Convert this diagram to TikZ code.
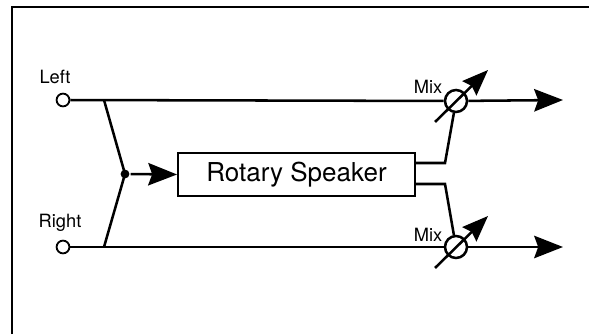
\documentclass[tikz,border=0pt]{standalone}
\usepackage{fontspec}
\setmainfont{TeX Gyre Heros}
\usetikzlibrary{arrows.meta,positioning,calc}

\begin{document}
\begin{tikzpicture}[
    x=0.025cm, y=0.025cm,
    line width=1.8pt,
    port/.style={draw, circle, fill=white, line width=1.3pt, inner sep=0pt, minimum size=0.32cm},
    mixer/.style={draw, circle, fill=white, inner sep=0pt, minimum size=0.55cm},
    box/.style={draw, fill=white, line width=1.5pt, minimum width=5.92cm, minimum height=1.08cm, font=\fontsize{18.5}{20}\selectfont},
    lbl/.style={inner sep=0pt, font=\fontsize{13}{15}\selectfont},
    dot/.style={circle, fill, inner sep=0pt, minimum size=0.22cm},
    sig/.style={-{Stealth[length=0.72cm, width=0.56cm, inset=0.1cm]}},
    knob/.style={-{Stealth[length=0.65cm, width=0.5cm, inset=0.08cm]}}
  ]
    \useasboundingbox (0,0) rectangle (589,334);
    \draw[line width=1.3pt] (12,0) -- (12,327) -- (589,327);

    \node[port] (inL) at (63,234) {};
    \node[port] (inR) at (63,87) {};
    \node[lbl] (labL) at (55,257) {Left};
    \node[lbl] (labR) at (60,111) {Right};
    \node[box] (rotary) at (296.5,159.5) {Rotary Speaker};
    \node[mixer] (mixL) at (456,233) {};
    \node[mixer] (mixR) at (456,87) {};
    \node[lbl] (mixlabL) at (428,247) {Mix};
    \node[lbl] (mixlabR) at (428,99) {Mix};

    \coordinate (tapL) at (104,234);
    \coordinate (tapR) at (104,87);
    \coordinate (bendL) at (445,171);
    \coordinate (bendR) at (445,150);
    \coordinate (outL) at (563,234);
    \coordinate (outR) at (563,87);

    \draw (inL) -- (mixL);
    \draw (inR) -- (mixR);
    \draw[sig] (mixL) -- (outL);
    \draw[sig] (mixR) -- (outR);
    \draw (tapL) -- (125,160) node[dot] (split) {} -- (tapR);
    \draw[sig] (split) -- (rotary.west);
    \draw (rotary.east |- bendL) -- (bendL) -- (mixL.260);
    \draw (rotary.east |- bendR) -- (bendR) -- (mixR.100);
    \foreach \m in {mixL,mixR}
      \draw[knob] ($(\m)+(-21,-21)$) -- ($(\m)+(32,31)$);
  \end{tikzpicture}
\end{document}
